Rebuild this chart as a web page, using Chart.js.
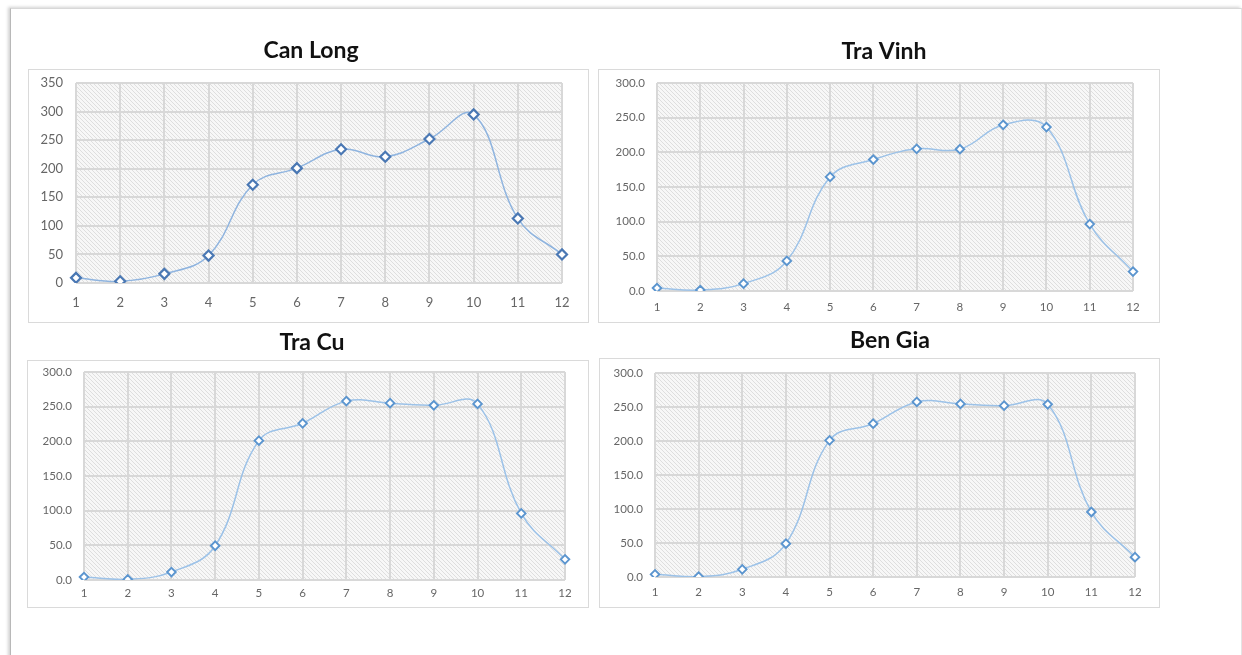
<!DOCTYPE html>
<html>
<head>
<meta charset="utf-8">
<script src="https://cdn.jsdelivr.net/npm/chart.js@4.4.1/dist/chart.umd.min.js"></script>
<style>
  html, body { margin: 0; padding: 0; background: #ffffff; }
  body { width: 1242px; height: 655px; position: relative; overflow: hidden; }
  .sheet {
    position: absolute; left: 10px; top: 8px; width: 1230px; height: 660px;
    background: #ffffff;
    border-left: 1px solid #b8b8b8; border-top: 1px solid #d8d8d8; border-right: 1px solid #e4e4e4;
    box-shadow: -2px -1px 3px rgba(0, 0, 0, 0.18);
  }
  canvas { position: absolute; }
</style>
</head>
<body>
<div class="sheet"></div>
<canvas id="canLongChart"></canvas>
<canvas id="traVinhChart"></canvas>
<canvas id="traCuChart"></canvas>
<canvas id="benGiaChart"></canvas>
<script>
// Monthly values (months 1..12) for each station
const months = ['1', '2', '3', '4', '5', '6', '7', '8', '9', '10', '11', '12'];
const canLong = [9, 3, 16, 48, 172, 201, 234, 221, 252, 295, 113, 50];
const traVinh = [4.3, 1.4, 10.6, 43.4, 164.5, 189.6, 205, 204.5, 239.7, 236.4, 96.5, 28];
const traCu = [4.3, 1.0, 11.5, 49.4, 201, 226, 258, 255, 252, 254, 96, 29.8];
const benGia = [3.9, 0.5, 11.3, 49, 201, 225.5, 257.5, 254.5, 252, 254, 95.6, 29.2];

// Y-axis tick labels
const canLongTicks = ['0', '50', '100', '150', '200', '250', '300', '350'];
const stationTicks = ['0.0', '50.0', '100.0', '150.0', '200.0', '250.0', '300.0'];

// Panel geometry in page pixels: canvas origin, frame, plot area, title centre
const panels = [
  { id: 'canLongChart', title: 'Can Long', data: canLong, ticks: canLongTicks, max: 350,
    canvas: { x: 26, y: 24, h: 302 }, box: { l: 28, t: 69, r: 588, b: 322 },
    plot: { l: 76, t: 83, r: 562, b: 283 }, titleX: 311, titleY: 51, tickFont: 13, xPad: 12, yPad: 13,
    pointRadius: 5, pointBorder: 2.2, pointColor: '#4a78b4', lineColor: '#8fb4df' },
  { id: 'traVinhChart', title: 'Tra Vinh', data: traVinh, ticks: stationTicks, max: 300,
    canvas: { x: 596, y: 24, h: 302 }, box: { l: 598, t: 69, r: 1159, b: 322 },
    plot: { l: 657, t: 83, r: 1133, b: 291 }, titleX: 884, titleY: 52, tickFont: 11.5, xPad: 9, yPad: 12,
    pointRadius: 4.3, pointBorder: 1.9, pointColor: '#5b95cf', lineColor: '#9cc2e8' },
  { id: 'traCuChart', title: 'Tra Cu', data: traCu, ticks: stationTicks, max: 300,
    canvas: { x: 25, y: 314, h: 296 }, box: { l: 27, t: 360, r: 588, b: 607 },
    plot: { l: 84, t: 372, r: 565, b: 580 }, titleX: 312, titleY: 343, tickFont: 11.5, xPad: 6.5, yPad: 12,
    pointRadius: 4.3, pointBorder: 1.9, pointColor: '#5b95cf', lineColor: '#9cc2e8' },
  { id: 'benGiaChart', title: 'Ben Gia', data: benGia, ticks: stationTicks, max: 300,
    canvas: { x: 594, y: 314, h: 296 }, box: { l: 599, t: 358, r: 1159, b: 607 },
    plot: { l: 655, t: 373, r: 1135, b: 577 }, titleX: 890, titleY: 341, tickFont: 11.5, xPad: 8.5, yPad: 12,
    pointRadius: 4.3, pointBorder: 1.9, pointColor: '#5b95cf', lineColor: '#9cc2e8' }
];

// Diagonal hatch used as the plot-area fill
function makeHatch() {
  const tile = document.createElement('canvas');
  tile.width = 4; tile.height = 4;
  const g = tile.getContext('2d');
  g.fillStyle = '#f7f7f7';
  g.fillRect(0, 0, 4, 4);
  g.strokeStyle = '#dedede';
  g.lineWidth = 1;
  g.beginPath();
  g.moveTo(-1, -1); g.lineTo(5, 5);
  g.moveTo(-1, 3); g.lineTo(1, 5);
  g.moveTo(3, -1); g.lineTo(5, 1);
  g.stroke();
  return tile;
}
const hatchTile = makeHatch();

// Draws the white frame and the hatched plot background
const framePlugin = {
  id: 'panelFrame',
  beforeDraw(chart, args, opts) {
    const ctx = chart.ctx;
    const b = opts.box;
    ctx.save();
    ctx.fillStyle = '#ffffff';
    ctx.fillRect(b.l, b.t, b.r - b.l, b.b - b.t);
    ctx.strokeStyle = '#dadada';
    ctx.lineWidth = 1;
    ctx.strokeRect(b.l + 0.5, b.t + 0.5, b.r - b.l, b.b - b.t);
    const a = chart.chartArea;
    ctx.fillStyle = ctx.createPattern(hatchTile, 'repeat');
    ctx.fillRect(a.left, a.top, a.right - a.left, a.bottom - a.top);
    ctx.restore();
  }
};

const fontFamily = "Lato, 'Open Sans', 'Liberation Sans', sans-serif";
const titleSize = 23;
const titleLine = titleSize * 1.2;

panels.forEach(p => {
  const el = document.getElementById(p.id);
  const cx = p.canvas.x, cy = p.canvas.y;
  // canvas width chosen so the full-width title is centred on titleX
  const width = Math.round(2 * (p.titleX - cx));
  el.width = width;
  el.height = p.canvas.h;
  el.style.left = cx + 'px';
  el.style.top = cy + 'px';

  const titleTop = p.titleY - cy - titleLine / 2;
  const titleBottom = (p.plot.t - cy) - titleTop - titleLine;
  const yAxisWidth = p.plot.l - cx;
  const rightSpace = cx + width - p.plot.r;
  const xAxisHeight = p.canvas.h - (p.plot.b - cy);

  new Chart(el, {
    type: 'line',
    data: {
      labels: months,
      datasets: [{
        data: p.data,
        borderColor: p.lineColor,
        borderWidth: 1.5,
        tension: 0.4,
        fill: false,
        pointStyle: 'rectRot',
        pointRadius: p.pointRadius,
        pointBorderWidth: p.pointBorder,
        pointBorderColor: p.pointColor,
        pointBackgroundColor: '#ffffff'
      }]
    },
    options: {
      responsive: false,
      animation: false,
      devicePixelRatio: 1,
      events: [],
      layout: { padding: 0 },
      plugins: {
        legend: { display: false },
        tooltip: { enabled: false },
        title: {
          display: true,
          text: p.title,
          color: '#111111',
          font: { family: fontFamily, size: titleSize, weight: 'bold' },
          padding: { top: titleTop, bottom: titleBottom }
        },
        panelFrame: {
          box: { l: p.box.l - cx, t: p.box.t - cy, r: p.box.r - cx, b: p.box.b - cy }
        }
      },
      scales: {
        x: {
          offset: false,
          grid: { color: '#d8d8d8', lineWidth: 2, drawTicks: false },
          border: { display: false },
          ticks: { color: '#666666', padding: p.xPad, maxRotation: 0,
                   font: { family: fontFamily, size: p.tickFont } },
          afterFit(scale) { scale.height = xAxisHeight; }
        },
        y: {
          min: 0,
          max: p.max,
          grid: { color: '#d8d8d8', lineWidth: 2, drawTicks: false },
          border: { display: false },
          ticks: {
            stepSize: 50,
            color: '#666666',
            padding: p.yPad,
            font: { family: fontFamily, size: p.tickFont },
            callback: (value, index) => p.ticks[index]
          },
          afterFit(scale) { scale.width = yAxisWidth; }
        },
        // empty right-hand spacer: keeps white space right of the plot
        spacer: {
          type: 'linear',
          position: 'right',
          grid: { display: false, drawTicks: false },
          border: { display: false },
          ticks: { display: false },
          afterFit(scale) { scale.width = rightSpace; }
        }
      }
    },
    plugins: [framePlugin]
  });
});
</script>
</body>
</html>
